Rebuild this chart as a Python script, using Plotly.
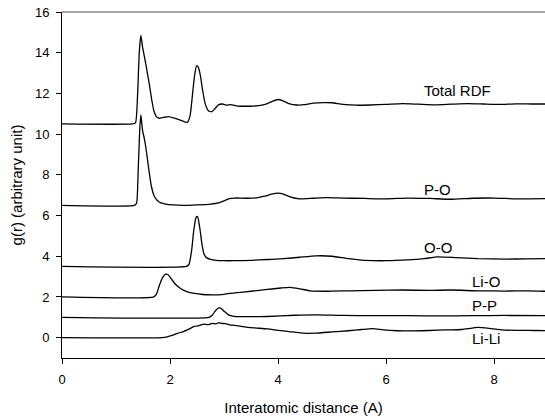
import plotly.graph_objects as go

# Partial and total radial distribution functions, each curve shifted by its own offset
total_r = [0, 1.30, 1.36, 1.40, 1.43, 1.46, 1.49, 1.54, 1.58, 1.62, 1.66, 1.70, 1.75, 1.80, 1.88, 1.97,
           2.08, 2.20, 2.32, 2.37, 2.41, 2.45, 2.49, 2.52, 2.56, 2.60, 2.65, 2.71, 2.77, 2.83, 2.90, 2.97,
           3.05, 3.12, 3.25, 3.40, 3.55, 3.70, 3.80, 3.90, 4.00, 4.08, 4.20, 4.35, 4.50, 4.65, 4.85, 5.00,
           5.20, 5.45, 5.70, 6.00, 6.30, 6.60, 6.90, 7.20, 7.50, 7.80, 8.10, 8.40, 8.70, 8.95]
total_g = [10.5, 10.5, 10.55, 12.0, 14.0, 14.85, 14.3, 13.6, 13.0, 12.4, 11.7, 11.15, 10.85, 10.78, 10.82, 10.86,
           10.78, 10.68, 10.58, 10.9, 11.8, 12.8, 13.35, 13.3, 12.9, 12.2, 11.5, 11.15, 11.1, 11.25, 11.45, 11.48,
           11.42, 11.45, 11.38, 11.37, 11.38, 11.42, 11.5, 11.62, 11.7, 11.65, 11.5, 11.43, 11.45, 11.52, 11.55, 11.54,
           11.46, 11.42, 11.43, 11.46, 11.5, 11.47, 11.44, 11.47, 11.5, 11.48, 11.46, 11.49, 11.48, 11.48]

po_r = [0, 1.34, 1.38, 1.41, 1.44, 1.46, 1.49, 1.53, 1.57, 1.61, 1.65, 1.70, 1.76, 1.83, 1.92, 2.05, 2.25,
        2.50, 2.75, 2.90, 3.00, 3.08, 3.20, 3.40, 3.60, 3.75, 3.88, 4.00, 4.10, 4.22, 4.40, 4.65, 4.90, 5.20,
        5.60, 6.00, 6.40, 6.80, 7.20, 7.60, 8.00, 8.40, 8.95]
po_g = [6.5, 6.5, 6.6, 8.2, 10.3, 10.95, 10.2, 9.7, 9.0, 8.2, 7.5, 7.0, 6.75, 6.62, 6.56, 6.52, 6.5,
        6.52, 6.56, 6.62, 6.72, 6.82, 6.86, 6.85, 6.87, 6.95, 7.05, 7.1, 7.05, 6.92, 6.82, 6.85, 6.88, 6.86,
        6.84, 6.82, 6.86, 6.84, 6.8, 6.85, 6.86, 6.82, 6.83]

oo_r = [0, 2.30, 2.35, 2.40, 2.44, 2.48, 2.51, 2.55, 2.59, 2.63, 2.68, 2.75, 2.85, 3.0, 3.2, 3.5, 3.8,
        4.1, 4.4, 4.7, 5.0, 5.3, 5.6, 6.0, 6.4, 6.7, 6.95, 7.3, 7.7, 8.2, 8.6, 8.95]
oo_g = [3.5, 3.5, 3.6, 4.3, 5.3, 5.9, 5.95, 5.4, 4.6, 4.1, 3.92, 3.85, 3.8, 3.78, 3.78, 3.8, 3.84,
        3.88, 3.95, 4.02, 4.0, 3.88, 3.8, 3.78, 3.82, 3.88, 3.97, 3.93, 3.88, 3.86, 3.87, 3.88]

lio_r = [0, 1.70, 1.75, 1.80, 1.86, 1.92, 1.96, 2.02, 2.10, 2.20, 2.32, 2.45, 2.6, 2.8, 3.0, 3.2, 3.5,
         3.8, 4.05, 4.22, 4.4, 4.6, 4.9, 5.3, 5.8, 6.3, 6.8, 7.2, 7.7, 8.2, 8.6, 8.95]
lio_g = [2.0, 2.0, 2.15, 2.55, 2.95, 3.12, 3.1, 2.9, 2.62, 2.4, 2.25, 2.17, 2.12, 2.1, 2.13, 2.2, 2.28,
         2.37, 2.44, 2.47, 2.4, 2.3, 2.28, 2.3, 2.32, 2.34, 2.32, 2.34, 2.3, 2.29, 2.3, 2.28]

pp_r = [0, 2.72, 2.78, 2.84, 2.90, 2.94, 3.00, 3.08, 3.18, 3.4, 3.8, 4.3, 4.7, 5.2, 5.8, 6.4, 7.0,
        7.6, 8.2, 8.95]
pp_g = [1.0, 1.0, 1.1, 1.32, 1.46, 1.45, 1.3, 1.12, 1.05, 1.03, 1.04, 1.1, 1.12, 1.09, 1.08, 1.08, 1.07,
        1.08, 1.09, 1.08]

lili_r = [0, 1.85, 1.95, 2.05, 2.15, 2.25, 2.35, 2.45, 2.55, 2.62, 2.70, 2.78, 2.85, 2.90, 2.95, 3.02,
          3.10, 3.20, 3.32, 3.45, 3.60, 3.80, 4.00, 4.20, 4.45, 4.70, 5.00, 5.30, 5.55, 5.75, 5.95, 6.20,
          6.50, 6.80, 7.10, 7.40, 7.70, 7.95, 8.20, 8.50, 8.75, 8.95]
lili_g = [0.0, 0.0, 0.04, 0.12, 0.22, 0.3, 0.42, 0.55, 0.6, 0.66, 0.64, 0.7, 0.68, 0.74, 0.7, 0.69,
          0.63, 0.6, 0.55, 0.5, 0.47, 0.43, 0.36, 0.3, 0.22, 0.22, 0.28, 0.34, 0.4, 0.44, 0.38, 0.34,
          0.33, 0.35, 0.38, 0.4, 0.5, 0.44, 0.37, 0.36, 0.35, 0.34]

curves = [
    ("Total RDF", total_r, total_g),
    ("P-O", po_r, po_g),
    ("O-O", oo_r, oo_g),
    ("Li-O", lio_r, lio_g),
    ("P-P", pp_r, pp_g),
    ("Li-Li", lili_r, lili_g),
]

# Curve names and where they sit beside each curve
label_text = ["Total RDF", "P-O", "O-O", "Li-O", "P-P", "Li-Li"]
label_x = [6.67, 6.67, 6.67, 7.56, 7.56, 7.56]
label_y = [12.14, 7.27, 4.42, 2.75, 1.57, -0.05]

FONT = "Liberation Sans, Arial, sans-serif"

fig = go.Figure()
for name, r, g in curves:
    fig.add_trace(go.Scatter(
        x=r, y=g, mode="lines", name=name,
        line=dict(color="black", width=1.3, shape="spline", smoothing=0.5),
        showlegend=False, hoverinfo="skip",
    ))

for txt, lx, ly in zip(label_text, label_x, label_y):
    fig.add_annotation(x=lx, y=ly, text=txt, showarrow=False, xanchor="left", yanchor="middle",
                       font=dict(family=FONT, size=15, color="black"))

# Grey frame line along the top of the plot area
fig.add_shape(type="line", xref="paper", yref="paper", x0=0, x1=1, y0=1, y1=1,
              line=dict(color="#8a8a8a", width=1.5))

fig.update_layout(
    width=545, height=420,
    margin=dict(l=62, r=0, t=12, b=62),
    paper_bgcolor="white", plot_bgcolor="white",
    font=dict(family=FONT, size=13, color="black"),
    xaxis=dict(
        range=[0, 8.94], tickvals=[0, 2, 4, 6, 8], ticks="outside", ticklen=5, tickwidth=1,
        tickcolor="black", showline=True, linecolor="black", linewidth=1, showgrid=False,
        zeroline=False, tickfont=dict(size=13), ticklabelstandoff=4,
        title=dict(text="Interatomic distance (A)", font=dict(size=15), standoff=16),
    ),
    yaxis=dict(
        range=[-1, 16], tickvals=list(range(0, 17, 2)), ticks="outside", ticklen=5, tickwidth=1,
        tickcolor="black", showline=True, linecolor="black", linewidth=1, showgrid=False,
        zeroline=False, tickfont=dict(size=13), ticklabelstandoff=4,
        title=dict(text="g(r) (arbitrary unit)", font=dict(size=15), standoff=8),
    ),
)

fig.write_html("out.html")
